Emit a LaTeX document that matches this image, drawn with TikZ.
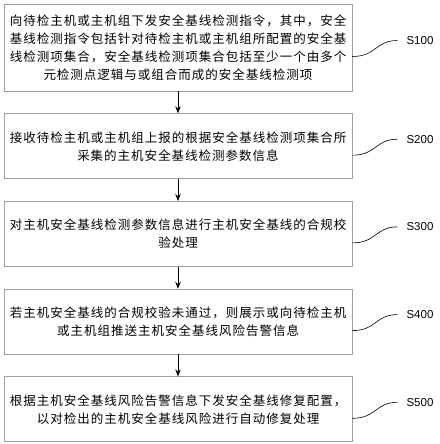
\documentclass[tikz,border=0pt]{standalone}
\usepackage{fontspec}
\setsansfont{Liberation Sans}
\newfontfamily\cjk[LetterSpace=8]{Noto Sans CJK SC}
\usetikzlibrary{positioning,arrows.meta}

\tikzset{
  stepbox/.style={draw=gray!75, line width=0.7pt, minimum width=348pt, minimum height=65pt,
    inner sep=0pt, align=center, font=\cjk\fontsize{12.5}{18}\selectfont},
  flow/.style={-{Stealth[length=7pt,width=5.5pt]}, line width=0.7pt},
  tag/.style={anchor=west, inner sep=0pt, font=\sffamily\fontsize{11.5}{13}\selectfont},
  wave/.style={line width=0.6pt}
}

\begin{document}
\begin{tikzpicture}
            \useasboundingbox (0,0) rectangle (439pt,-444pt);
            % steps
            \node[stepbox, minimum height=87pt] (b1) at (178pt,-47.5pt)
              {向待检主机或主机组下发安全基线检测指令，其中，安全\\
               基线检测指令包括针对待检主机或主机组所配置的安全基\\
               线检测项集合，安全基线检测项集合包括至少一个由多个\\
               元检测点逻辑与或组合而成的安全基线检测项};
            \node[stepbox, below=22pt of b1] (b2)
              {接收待检主机或主机组上报的根据安全基线检测项集合所\\
               采集的主机安全基线检测参数信息};
            \node[stepbox, below=22pt of b2] (b3)
              {对主机安全基线检测参数信息进行主机安全基线的合规校\\
               验处理};
            \node[stepbox, below=22pt of b3] (b4)
              {若主机安全基线的合规校验未通过，则展示或向待检主机\\
               或主机组推送主机安全基线风险告警信息};
            \node[stepbox, below=22pt of b4] (b5)
              {根据主机安全基线风险告警信息下发安全基线修复配置，\\
               以对检出的主机安全基线风险进行自动修复处理};
            % arrows
            \draw[flow] (b1) -- (b2);
            \draw[flow] (b2) -- (b3);
            \draw[flow] (b3) -- (b4);
            \draw[flow] (b4) -- (b5);
            % step labels
            \foreach \b/\t in {b1/S100, b2/S200, b3/S300, b4/S400, b5/S500} {
              \node[tag] (\b tag) at ([xshift=54pt,yshift=7pt]\b.east) {\t};
              \draw[wave] ([yshift=-9pt]\b.east) .. controls +(24pt,0pt) and +(-22pt,0pt) .. ([xshift=-9pt]\b tag.west);
            }
\end{tikzpicture}
\end{document}
